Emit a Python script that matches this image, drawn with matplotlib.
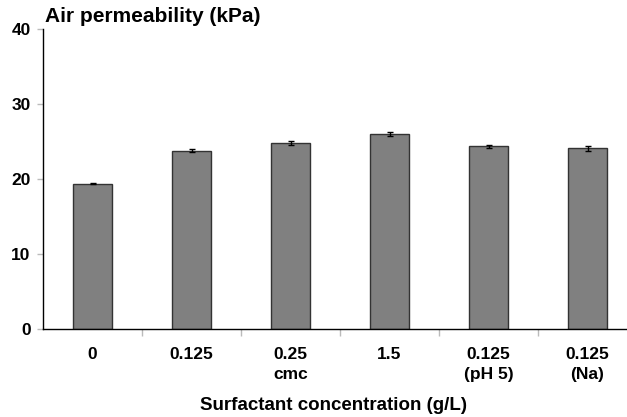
import matplotlib.pyplot as plt
import numpy as np

plt.rcParams["font.family"] = ["Liberation Sans", "DejaVu Sans"]
plt.rcParams["font.weight"] = "bold"

# data
labels = ["0", "0.125", "0.25\ncmc", "1.5", "0.125\n(pH 5)", "0.125\n(Na)"]
values = [19.4, 23.8, 24.8, 26.0, 24.4, 24.1]
errors = [0.1, 0.15, 0.3, 0.3, 0.2, 0.3]

x = np.arange(len(labels))

fig = plt.figure(figsize=(6.27, 4.17), dpi=100)
ax = fig.add_axes([43 / 627, 88 / 417, 594 / 627, 300 / 417])

ax.bar(x, values, width=0.4, color="#808080", edgecolor="#333333", linewidth=1,
       yerr=errors, capsize=2.5, error_kw=dict(elinewidth=1, ecolor="black", capthick=1))

ax.set_xlim(-0.5, 5.5)
ax.set_ylim(0, 40)
ax.set_yticks([0, 10, 20, 30, 40])
ax.set_xticks(x)
ax.set_xticklabels(labels, fontsize=12.5, fontweight="bold", linespacing=1.45)
ax.set_xticks(np.arange(0.5, 5.5, 1), minor=True)
ax.tick_params(axis="x", which="major", length=0, pad=13)
ax.tick_params(axis="x", which="minor", length=5, color="#bbbbbb", width=1)
ax.tick_params(axis="y", length=4, width=1, color="#bbbbbb", labelsize=12.5, pad=5)
for lab in ax.get_yticklabels():
    lab.set_fontweight("bold")

for s in ["top", "right"]:
    ax.spines[s].set_visible(False)
ax.spines["left"].set_linewidth(1)
ax.spines["bottom"].set_linewidth(1)

fig.text(45 / 627, 1 - 16 / 417, "Air permeability (kPa)", fontsize=15,
         fontweight="bold", va="center", ha="left")
fig.text(334 / 627, 1 - 405 / 417, "Surfactant concentration (g/L)", fontsize=13.5,
         fontweight="bold", va="center", ha="center")

fig.savefig("out.png", dpi=100)
